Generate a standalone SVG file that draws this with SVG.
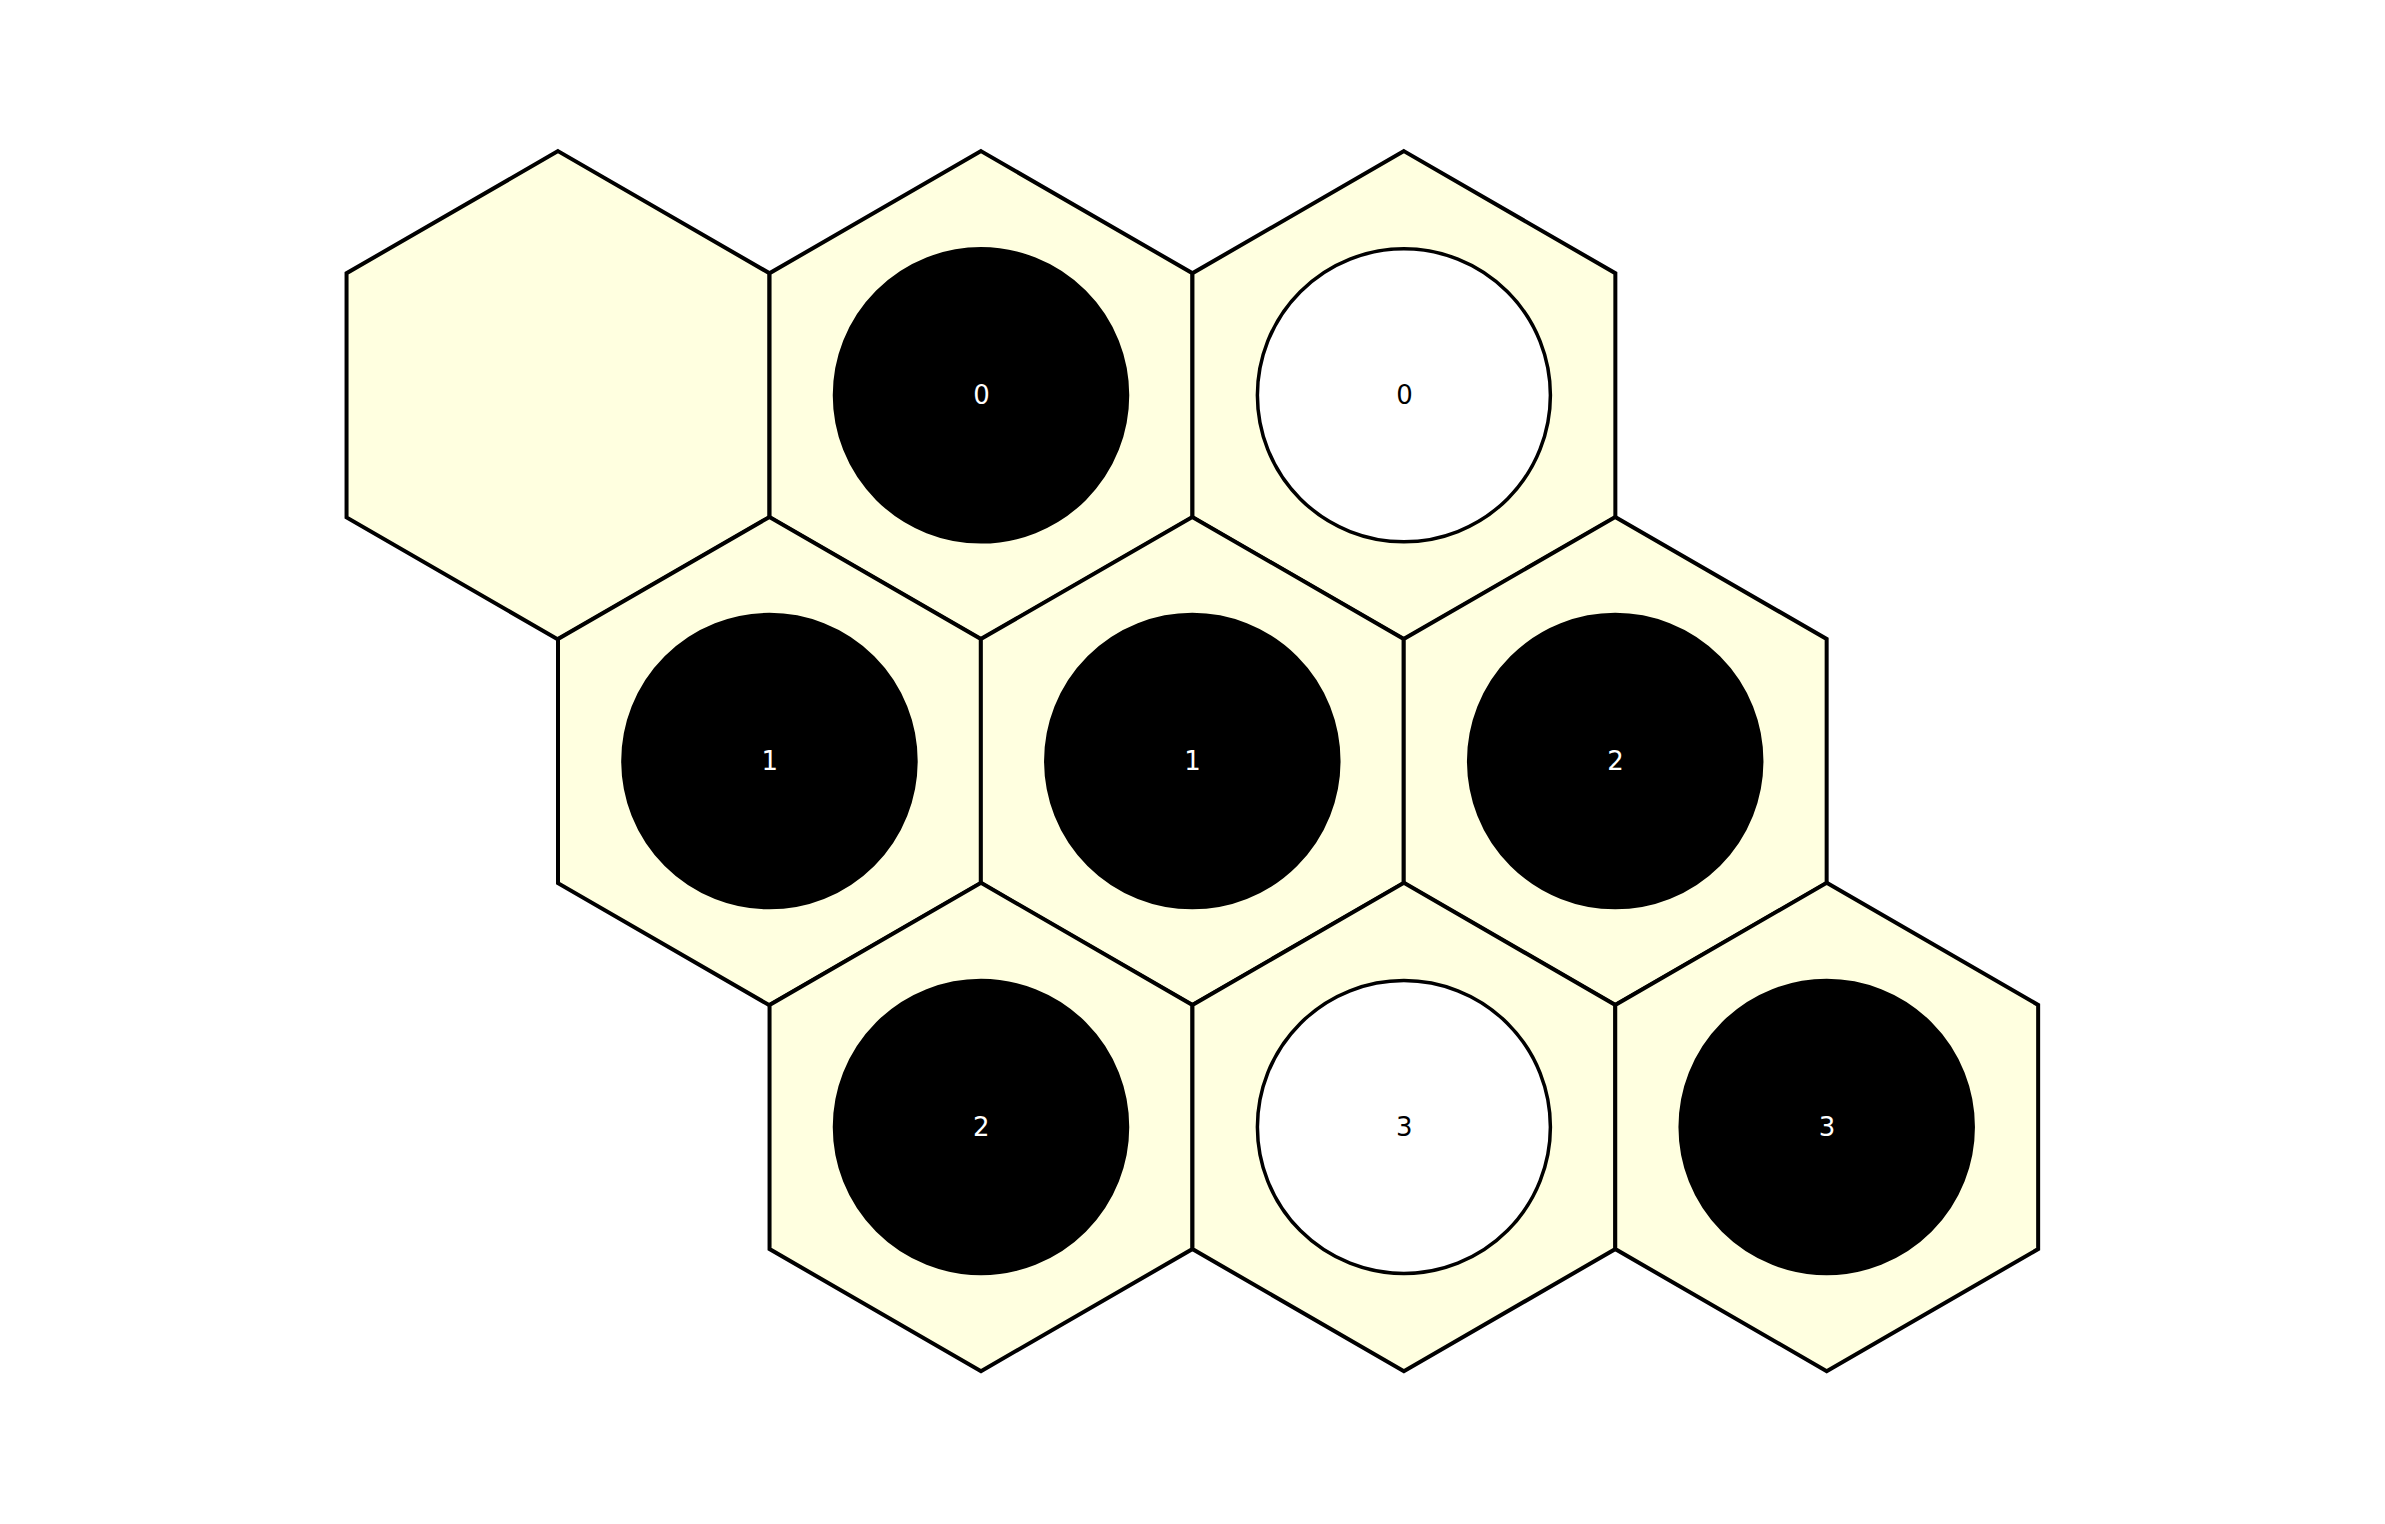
<svg xmlns="http://www.w3.org/2000/svg" xmlns:xlink="http://www.w3.org/1999/xlink" width="2385" height="1524" viewBox="0 0 2385 1524">
<style>
.hex{fill:#ffffe0;stroke:#000;stroke-width:4;stroke-linejoin:miter}
.blk{fill:#000;stroke:#000;stroke-width:3.5}
.wht{fill:#fff;stroke:#000;stroke-width:3.5}
.lbl{font-family:"DejaVu Sans",sans-serif;font-size:26px;text-anchor:middle}
.lw{fill:#fff}
.lb{fill:#000}
</style>
<defs>
<polygon id="hx" points="0,-244.16 211.45,-122.08 211.45,122.08 0,244.16 -211.45,122.08 -211.45,-122.08"/>
</defs>
<rect width="2385" height="1524" fill="#fff"/>
<g id="cells">
<g id="c00"><use xlink:href="#hx" href="#hx" class="hex" x="558" y="395.3"/></g>
<g id="c01"><use xlink:href="#hx" href="#hx" class="hex" x="981" y="395.3"/></g>
<g id="c02"><use xlink:href="#hx" href="#hx" class="hex" x="1403.9" y="395.3"/></g>
<g id="c10"><use xlink:href="#hx" href="#hx" class="hex" x="769.45" y="761.1"/></g>
<g id="c11"><use xlink:href="#hx" href="#hx" class="hex" x="1192.3" y="761.1"/></g>
<g id="c12"><use xlink:href="#hx" href="#hx" class="hex" x="1615.2" y="761.1"/></g>
<g id="c20"><use xlink:href="#hx" href="#hx" class="hex" x="981" y="1127"/></g>
<g id="c21"><use xlink:href="#hx" href="#hx" class="hex" x="1403.9" y="1127"/></g>
<g id="c22"><use xlink:href="#hx" href="#hx" class="hex" x="1826.7" y="1127"/></g>
</g>
<g id="stones">
<g id="s01"><circle class="blk" cx="981" cy="395.3" r="146.5"/><text class="lbl lw" x="981.5" y="403.5">0</text></g>
<g id="s02"><circle class="wht" cx="1403.9" cy="395.3" r="146.5"/><text class="lbl lb" x="1404.5" y="403.5">0</text></g>
<g id="s10"><circle class="blk" cx="769.45" cy="761.1" r="146.5"/><text class="lbl lw" x="769.8" y="769.5">1</text></g>
<g id="s11"><circle class="blk" cx="1192.3" cy="761.1" r="146.5"/><text class="lbl lw" x="1192.6" y="769.5">1</text></g>
<g id="s12"><circle class="blk" cx="1615.2" cy="761.1" r="146.5"/><text class="lbl lw" x="1615.5" y="769.5">2</text></g>
<g id="s20"><circle class="blk" cx="981" cy="1127" r="146.5"/><text class="lbl lw" x="981.3" y="1135.5">2</text></g>
<g id="s21"><circle class="wht" cx="1403.9" cy="1127" r="146.5"/><text class="lbl lb" x="1404.2" y="1135.5">3</text></g>
<g id="s22"><circle class="blk" cx="1826.7" cy="1127" r="146.5"/><text class="lbl lw" x="1827" y="1135.5">3</text></g>
</g>
<g id="connectors"/>
</svg>
